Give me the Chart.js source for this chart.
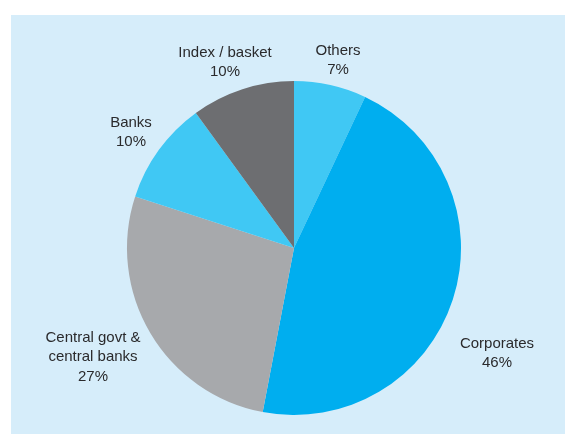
<!DOCTYPE html>
<html>
<head>
<meta charset="utf-8">
<script src="https://cdn.jsdelivr.net/npm/chart.js@4/dist/chart.umd.min.js"></script>
<style>
  html, body { margin: 0; padding: 0; background: #ffffff; }
  #wrap { width: 565px; height: 434px; position: relative; }
</style>
</head>
<body>
<div id="wrap"><canvas id="c" width="565" height="434"></canvas></div>
<script>
// Share of issuance by type of underlying (percent), clockwise from 12 o'clock
const categories = ['Others', 'Corporates', 'Central govt &\ncentral banks', 'Banks', 'Index / basket'];
const shares = [7, 46, 27, 10, 10];
const sliceColors = ['#40c8f4', '#00aeef', '#a7a9ac', '#40c8f4', '#6d6e71'];

// Label anchors, as offsets (px) from the pie centre to the first text line
const labelOffsets = [
  [44, -197],
  [203, 96],
  [-201, 90],
  [-163, -125],
  [-69, -195]
];

const panelPlugin = {
  id: 'panel',
  beforeDraw(chart) {
    const ctx = chart.ctx;
    ctx.save();
    ctx.fillStyle = '#d6edfa';
    ctx.fillRect(11, 15, chart.width - 11, chart.height - 15);
    ctx.restore();
  }
};

const labelPlugin = {
  id: 'sliceLabels',
  afterDatasetsDraw(chart) {
    const ctx = chart.ctx;
    const arc = chart.getDatasetMeta(0).data[0];
    const cx = arc.x, cy = arc.y;
    ctx.save();
    ctx.fillStyle = '#2a2a2c';
    ctx.font = '15px "Liberation Sans", Arial, sans-serif';
    ctx.textAlign = 'center';
    ctx.textBaseline = 'middle';
    const lineH = 19.2;
    categories.forEach((name, i) => {
      const lines = name.split('\n').concat([shares[i] + '%']);
      const x = cx + labelOffsets[i][0];
      const y0 = cy + labelOffsets[i][1];
      lines.forEach((t, k) => ctx.fillText(t, x, y0 + k * lineH));
    });
    ctx.restore();
  }
};

new Chart(document.getElementById('c'), {
  type: 'pie',
  data: {
    labels: categories,
    datasets: [{
      data: shares,
      backgroundColor: sliceColors,
      borderWidth: 0
    }]
  },
  options: {
    responsive: false,
    animation: false,
    layout: { padding: { left: 127, right: 104, top: 81, bottom: 19 } },
    plugins: {
      legend: { display: false },
      tooltip: { enabled: false }
    }
  },
  plugins: [panelPlugin, labelPlugin]
});
</script>
</body>
</html>
